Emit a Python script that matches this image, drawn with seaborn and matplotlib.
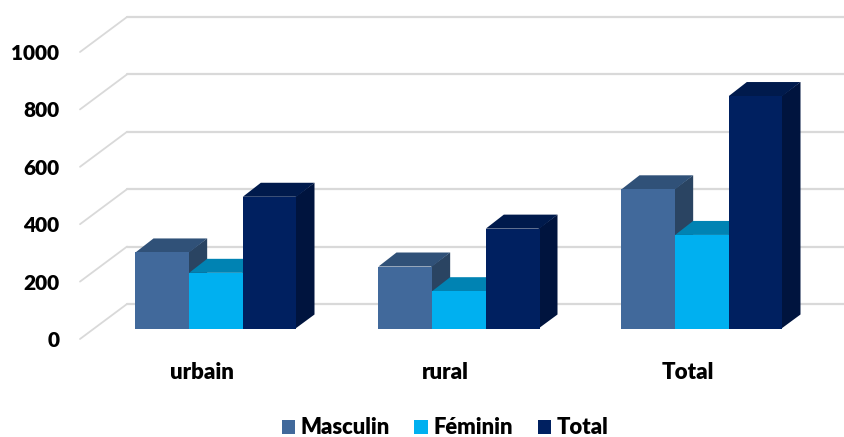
import pandas as pd
import matplotlib
matplotlib.use("Agg")
import matplotlib.pyplot as plt
from matplotlib.patches import Polygon
import seaborn as sns

# ----------------------------------
# Data
# ----------------------------------
categories = ["urbain", "rural", "Total"]
series_names = ["Masculin", "Féminin", "Total"]
masculin = [265, 216, 485]
feminin = [194, 130, 326]
total = [459, 348, 810]
y_ticks = [0, 200, 400, 600, 800, 1000]

df = pd.DataFrame({
    "category": categories * 3,
    "series": [s for s in series_names for _ in categories],
    "value": masculin + feminin + total,
})

# ----------------------------------
# Colours of the faces
# ----------------------------------
front_colors = ["#41699B", "#00B0F0", "#002060"]
top_colors = ["#305178", "#0083B3", "#001A4C"]
side_colors = ["#2A4462", "#0074A0", "#00143E"]
grid_color = "#D9D9D9"

# ----------------------------------
# Fake 3D geometry, in data units
# ----------------------------------
PX_X = 243.0  # pixels per category
PX_Y = 0.287  # pixels per value unit
bar_dx, bar_dy = 18 / PX_X, 14 / PX_Y
wall_dx, wall_dy = 47 / PX_X, 35 / PX_Y
front_drop = 10.5 / PX_Y  # bars stand a little behind the front edge of the floor
label_shift = 14 / PX_X
overlap = 1 / PX_X  # side and top faces slide under the front, no hairline

sns.set_theme(style="white")
plt.rcParams["font.family"] = ["Lato", "DejaVu Sans"]
plt.rcParams["font.weight"] = "bold"
TEXT_WEIGHT = 800

fig = plt.figure(figsize=(8.45, 4.37), dpi=100)
ax = fig.add_axes([80 / 845, (437 - 339) / 437, (845 - 80) / 845, (339 - 17) / 437])

sns.barplot(
    data=df, x="category", y="value", hue="series",
    order=categories, hue_order=series_names,
    palette=front_colors, width=161 / 243, gap=0, dodge=True,
    linewidth=0, saturation=1, zorder=5, ax=ax,
)

x_left = -136 / PX_X
x_right = 629 / PX_X
ax.set_xlim(x_left, x_right)
ax.set_ylim(-front_drop, 1000 - front_drop + wall_dy)

# ----------------------------------
# Floor and wall grid
# ----------------------------------
for v in y_ticks:
    y_front = v - front_drop
    y_back = y_front + wall_dy
    ax.plot([x_left, x_left + wall_dx], [y_front, y_back],
            color=grid_color, lw=1.3, zorder=1, clip_on=False)
    ax.plot([x_left + wall_dx, x_right], [y_back, y_back],
            color=grid_color, lw=1.6, zorder=1, clip_on=False)

# ----------------------------------
# Top and side faces, built from the bars seaborn drew
# ----------------------------------
for i, container in enumerate(ax.containers):
    for bar in container:
        x0 = bar.get_x()
        x1 = x0 + bar.get_width()
        h = bar.get_height()
        ax.add_patch(Polygon(
            [(x1 - overlap, 0), (x1 + bar_dx, bar_dy), (x1 + bar_dx, h + bar_dy), (x1 - overlap, h)],
            facecolor=side_colors[i], edgecolor="none", zorder=2 + i * 0.5,
        ))
        ax.add_patch(Polygon(
            [(x0, h), (x0 + bar_dx, h + bar_dy), (x1 + bar_dx, h + bar_dy), (x1, h)],
            facecolor=top_colors[i], edgecolor="none", zorder=2 + i * 0.5,
        ))

# ----------------------------------
# Axes text
# ----------------------------------
ax.set_yticks([v - front_drop for v in y_ticks])
ax.set_yticklabels(y_ticks, fontsize=15, fontweight=TEXT_WEIGHT, color="black")
ax.set_xticks([p - label_shift for p in range(len(categories))])
ax.set_xticklabels(categories, fontsize=16, fontweight=TEXT_WEIGHT, color="black")
ax.tick_params(axis="y", length=0, pad=15)
ax.tick_params(axis="x", length=0, pad=16.5)
ax.set_xlabel("")
ax.set_ylabel("")
sns.despine(ax=ax, left=True, bottom=True)

handles, labels = ax.get_legend_handles_labels()
ax.legend(
    handles, labels, loc="center", bbox_to_anchor=(445 / 845, 1 - 428 / 437),
    bbox_transform=fig.transFigure, ncol=3, frameon=False,
    handlelength=0.62, handleheight=0.62, handletextpad=0.25, columnspacing=1.12,
    borderaxespad=0, borderpad=0, labelcolor="black",
    prop={"size": 15.8, "weight": TEXT_WEIGHT},
)

fig.savefig("out.png", dpi=100)
